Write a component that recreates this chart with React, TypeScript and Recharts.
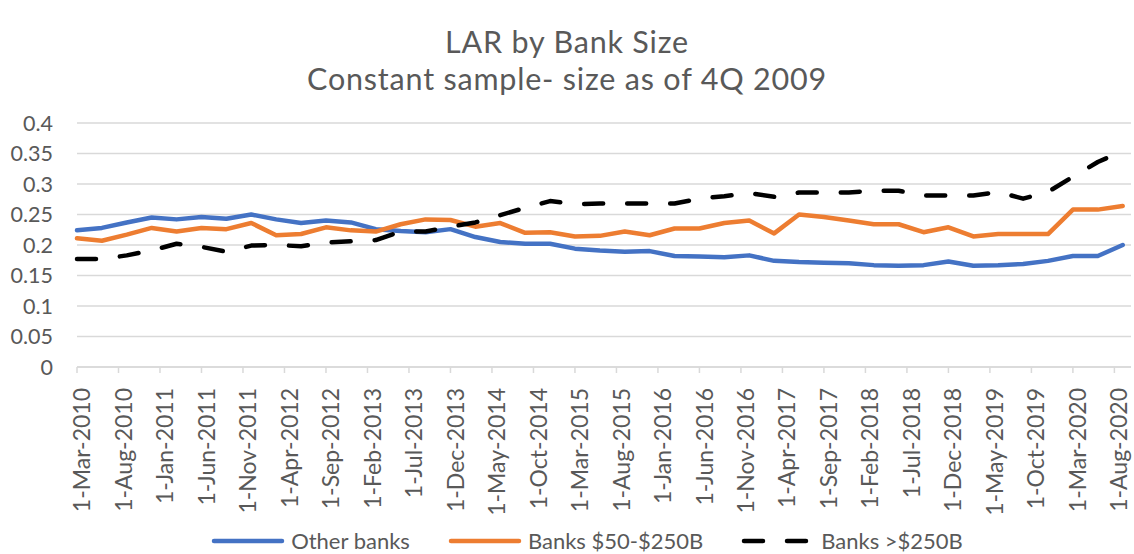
import { LineChart, Line, XAxis, YAxis, CartesianGrid } from 'recharts';

const quarters = [
  'Mar-2010', 'Jun-2010', 'Sep-2010', 'Dec-2010',
  'Mar-2011', 'Jun-2011', 'Sep-2011', 'Dec-2011',
  'Mar-2012', 'Jun-2012', 'Sep-2012', 'Dec-2012',
  'Mar-2013', 'Jun-2013', 'Sep-2013', 'Dec-2013',
  'Mar-2014', 'Jun-2014', 'Sep-2014', 'Dec-2014',
  'Mar-2015', 'Jun-2015', 'Sep-2015', 'Dec-2015',
  'Mar-2016', 'Jun-2016', 'Sep-2016', 'Dec-2016',
  'Mar-2017', 'Jun-2017', 'Sep-2017', 'Dec-2017',
  'Mar-2018', 'Jun-2018', 'Sep-2018', 'Dec-2018',
  'Mar-2019', 'Jun-2019', 'Sep-2019', 'Dec-2019',
  'Mar-2020', 'Jun-2020', 'Sep-2020',
];

const otherBanks = [
  0.224, 0.228, 0.237, 0.245, 0.242, 0.246, 0.243, 0.250, 0.242, 0.236, 0.240,
  0.237, 0.226, 0.223, 0.221, 0.226, 0.213, 0.205, 0.202, 0.202, 0.194, 0.191,
  0.189, 0.190, 0.182, 0.181, 0.180, 0.183, 0.174, 0.172, 0.171, 0.170, 0.167,
  0.166, 0.167, 0.173, 0.166, 0.167, 0.169, 0.174, 0.182, 0.182, 0.200,
];

const midBanks = [
  0.211, 0.207, 0.217, 0.228, 0.222, 0.228, 0.226, 0.236, 0.216, 0.218, 0.229,
  0.224, 0.222, 0.234, 0.242, 0.241, 0.230, 0.236, 0.220, 0.221, 0.214, 0.215,
  0.222, 0.216, 0.227, 0.227, 0.236, 0.240, 0.219, 0.250, 0.246, 0.240, 0.234,
  0.234, 0.221, 0.229, 0.214, 0.218, 0.218, 0.218, 0.258, 0.258, 0.264,
];

const largeBanks = [
  0.177, 0.177, 0.183, 0.191, 0.202, 0.197, 0.189, 0.199, 0.200, 0.198, 0.204,
  0.206, 0.208, 0.222, 0.222, 0.230, 0.237, 0.249, 0.261, 0.272, 0.267, 0.268,
  0.268, 0.268, 0.268, 0.276, 0.280, 0.285, 0.279, 0.286, 0.286, 0.286, 0.289,
  0.289, 0.281, 0.281, 0.281, 0.287, 0.276, 0.287, 0.312, 0.336, 0.354,
];

const xTickLabels = [
  '1-Mar-2010', '1-Aug-2010', '1-Jan-2011', '1-Jun-2011', '1-Nov-2011',
  '1-Apr-2012', '1-Sep-2012', '1-Feb-2013', '1-Jul-2013', '1-Dec-2013',
  '1-May-2014', '1-Oct-2014', '1-Mar-2015', '1-Aug-2015', '1-Jan-2016',
  '1-Jun-2016', '1-Nov-2016', '1-Apr-2017', '1-Sep-2017', '1-Feb-2018',
  '1-Jul-2018', '1-Dec-2018', '1-May-2019', '1-Oct-2019', '1-Mar-2020',
  '1-Aug-2020',
];

const yTicks = [0, 0.05, 0.1, 0.15, 0.2, 0.25, 0.3, 0.35, 0.4];

const MONTHS = ['Jan', 'Feb', 'Mar', 'Apr', 'May', 'Jun', 'Jul', 'Aug', 'Sep', 'Oct', 'Nov', 'Dec'];

// months since Mar-2010
function monthIndex(label: string) {
  const parts = label.split('-');
  const year = Number(parts[parts.length - 1]);
  const mon = parts[parts.length - 2];
  return (year - 2010) * 12 + MONTHS.indexOf(mon) - 2;
}

const data = quarters.map((q, i) => ({
  m: monthIndex(q),
  other: otherBanks[i],
  mid: midBanks[i],
  large: largeBanks[i],
}));

const xTicks = xTickLabels.map(monthIndex);
const labelFor = new Map(xTicks.map((t, i) => [t, xTickLabels[i]]));

const FONT = 'Lato, "Open Sans", sans-serif';
const TEXT = '#595959';

function XTick({ x, y, payload }: any) {
  return (
    <text
      transform={`translate(${x + 5},${y + 13}) rotate(-90)`}
      textAnchor="end"
      dy="0.35em"
      fill={TEXT}
      fontSize={23}
      fontFamily={FONT}
    >
      {labelFor.get(payload.value)}
    </text>
  );
}

function YTick({ x, y, payload }: any) {
  return (
    <text x={x} y={y} textAnchor="end" dy="0.35em" fill={TEXT} fontSize={21.5} fontFamily={FONT}>
      {String(payload.value)}
    </text>
  );
}

const legendItems = [
  { name: 'Other banks', color: '#4472C4', dash: false },
  { name: 'Banks $50-$250B', color: '#ED7D31', dash: false },
  { name: 'Banks >$250B', color: '#000000', dash: true },
];

function ChartLegend() {
  return (
    <div
      style={{
        position: 'absolute',
        top: 527,
        left: 20,
        width: 1134,
        display: 'flex',
        justifyContent: 'center',
        gap: 38,
        fontFamily: FONT,
        fontSize: 22,
        lineHeight: '28px',
        color: TEXT,
      }}
    >
      {legendItems.map((it) => (
        <div key={it.name} style={{ display: 'flex', alignItems: 'center', gap: 6 }}>
          <svg width={74} height={10}>
            <line
              x1={3}
              x2={71}
              y1={5}
              y2={5}
              stroke={it.color}
              strokeWidth={4.5}
              strokeLinecap="round"
              strokeDasharray={it.dash ? '19 24' : undefined}
            />
          </svg>
          <span>{it.name}</span>
        </div>
      ))}
    </div>
  );
}

export default function App() {
  return (
    <div style={{ position: 'absolute', left: 0, top: 0, width: 1134, height: 554, background: '#fff', overflow: 'hidden' }}>
      <div
        style={{
          position: 'absolute',
          top: 23,
          left: 0,
          width: 1134,
          textAlign: 'center',
          fontFamily: FONT,
          fontSize: 30.5,
          lineHeight: '37px',
          letterSpacing: 0.8,
          color: TEXT,
        }}
      >
        <div>LAR by Bank Size</div>
        <div>Constant sample- size as of 4Q 2009</div>
      </div>
      <LineChart width={1134} height={554} data={data} margin={{ top: 123, right: 3, bottom: 0, left: 0 }}>
        <CartesianGrid horizontal vertical={false} stroke="#d9d9d9" strokeWidth={1.3} />
        <XAxis
          dataKey="m"
          type="number"
          domain={[0, 127]}
          ticks={xTicks}
          interval={0}
          tick={<XTick />}
          height={187}
          axisLine={{ stroke: '#d9d9d9', strokeWidth: 1.5 }}
          tickLine={{ stroke: '#d9d9d9', strokeWidth: 1.5 }}
          tickSize={6}
        />
        <YAxis
          type="number"
          domain={[0, 0.4]}
          ticks={yTicks}
          interval={0}
          width={77}
          axisLine={false}
          tickLine={false}
          tick={<YTick />}
          tickMargin={18}
        />
        <Line dataKey="other" stroke="#4472C4" strokeWidth={4.5} dot={false} isAnimationActive={false} strokeLinecap="round" strokeLinejoin="round" />
        <Line dataKey="mid" stroke="#ED7D31" strokeWidth={4.5} dot={false} isAnimationActive={false} strokeLinecap="round" strokeLinejoin="round" />
        <Line
          dataKey="large"
          stroke="#000000"
          strokeWidth={4.5}
          strokeDasharray="19 24"
          dot={false}
          isAnimationActive={false}
          strokeLinecap="round"
          strokeLinejoin="round"
        />
      </LineChart>
      <ChartLegend />
    </div>
  );
}
